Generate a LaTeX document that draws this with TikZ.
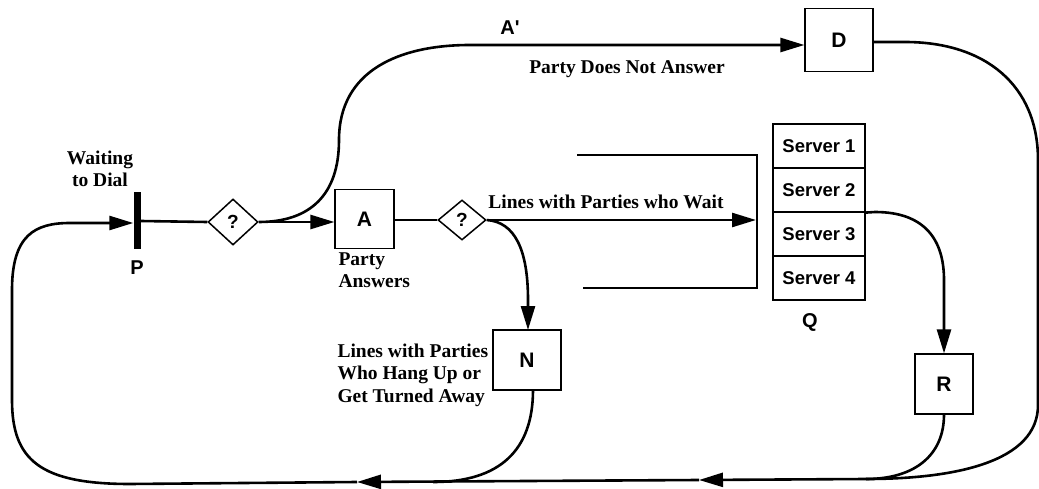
\documentclass[tikz,border=0pt]{standalone}
\usepackage{fontspec}
\setmainfont{Liberation Serif}
\setsansfont{Liberation Sans}
\usetikzlibrary{shapes.geometric,arrows.meta}
\begin{document}
\begin{tikzpicture}[x=1pt,y=-1pt,
  flow/.style={line width=2.6pt},
  tip/.style={-{Triangle[length=24pt,width=14pt]}},
  box/.style={draw,line width=1.2pt,minimum width=59pt,minimum height=59pt,inner sep=0pt,font=\sffamily\bfseries\fontsize{21}{24}\selectfont},
  dia/.style={draw,diamond,line width=1.5pt,inner sep=0pt,minimum width=50pt,minimum height=46pt,font=\sffamily\bfseries\fontsize{19}{22}\selectfont},
  srv/.style={draw,line width=1.2pt,minimum width=92pt,minimum height=44pt,inner sep=0pt,font=\sffamily\bfseries\fontsize{18.5}{22}\selectfont},
  lab/.style={font=\bfseries\fontsize{19.5}{22.5}\selectfont},
  slab/.style={font=\sffamily\bfseries\fontsize{20}{22}\selectfont}]
\useasboundingbox (0,0) rectangle (1039,489);

% nodes
\node[fill=black,minimum width=7pt,minimum height=57pt,inner sep=0pt] (P) at (137,221) {};
\node[dia] (d1) at (233,222) {?};
\node[box] (A) at (364.5,219) {A};
\node[dia,minimum width=48pt,minimum height=40pt] (d2) at (462,220) {?};
\node[box,minimum width=68pt,minimum height=63pt] (D) at (839,40) {D};
\node[box,minimum width=68pt,minimum height=60pt] (N) at (527,360) {N};
\node[box,minimum width=58pt,minimum height=60pt] (R) at (944,384) {R};
\node[srv] (s1) at (819,146) {Server 1};
\node[srv] (s2) at (819,190) {Server 2};
\node[srv] (s3) at (819,234) {Server 3};
\node[srv] (s4) at (819,278) {Server 4};

% labels
\node[lab,align=center] (wait) at (100,169) {Waiting\\to Dial};
\node[slab] (Plab) at (137,268) {P};
\node[lab,align=left,anchor=west] (pa) at (335,270) {Party\\Answers};
\node[lab] (lw) at (606,202) {Lines with Parties who Wait};
\node[lab,align=left,anchor=west] (lh) at (334,375) {Lines with Parties\\Who Hang Up or\\Get Turned Away};
\node[slab] (Qlab) at (810,322) {Q};
\node[slab] (Alab) at (510,28) {A\textquotesingle};
\node[lab] (pdna) at (627,69) {Party Does Not Answer};

% waiting line bracket
\coordinate (qa) at (577,155);
\coordinate (qb) at (757,155);
\coordinate (qc) at (757,288);
\coordinate (qd) at (583,288);
\draw[line width=1.2pt] (qa) -- (qb) -- (qc) -- (qd);
\coordinate (qin) at (756,220);

% merge points on the return line
\coordinate (mR) at (866,479);
\coordinate (arr1) at (699,480);
\coordinate (mN) at (433,482);
\coordinate (arr2) at (357,482);
\coordinate (bl) at (130,484);

% connectors
\draw[flow] (P.east) -- (d1.west);
\draw[flow,tip] (d1.east) -- (A.west |- d1.east);
\draw[flow,tip] (d1.east) .. controls (310,222) and (339,195) .. (339,140)
   .. controls (339,70) and (400,45) .. (470,45) -- (D.west |- 0,45);
\draw[flow] (A.east |- d2.west) -- (d2.west);
\draw[flow,tip] (d2.east) -- (qin);
\draw[flow,tip] (d2.east) .. controls (515,222) and (528,250) .. (528,300) -- (528,330);
\draw[flow,tip] (s2.south east) -- (875,212) .. controls (925,212) and (944,240) .. (944,280) -- (R.north);
\draw[flow] (D.east |- 0,42) -- (905,42) .. controls (985,42) and (1038,85) .. (1038,160)
   -- (1038,405) .. controls (1038,462) and (955,479) .. (mR);
\draw[flow] (R.south) .. controls (944,455) and (915,479) .. (mR);
\draw[flow] (533,390) .. controls (533,450) and (500,482) .. (mN);
\draw[flow,tip] (mR) -- (arr1);
\draw[flow,tip] (arr1) -- (arr2);
\draw[flow,tip] (arr2) -- (bl) .. controls (40,484) and (12,460) .. (12,400) -- (12,290)
   .. controls (12,235) and (35,223) .. (70,223) -- (P.west |- 0,223);
\end{tikzpicture}
\end{document}
